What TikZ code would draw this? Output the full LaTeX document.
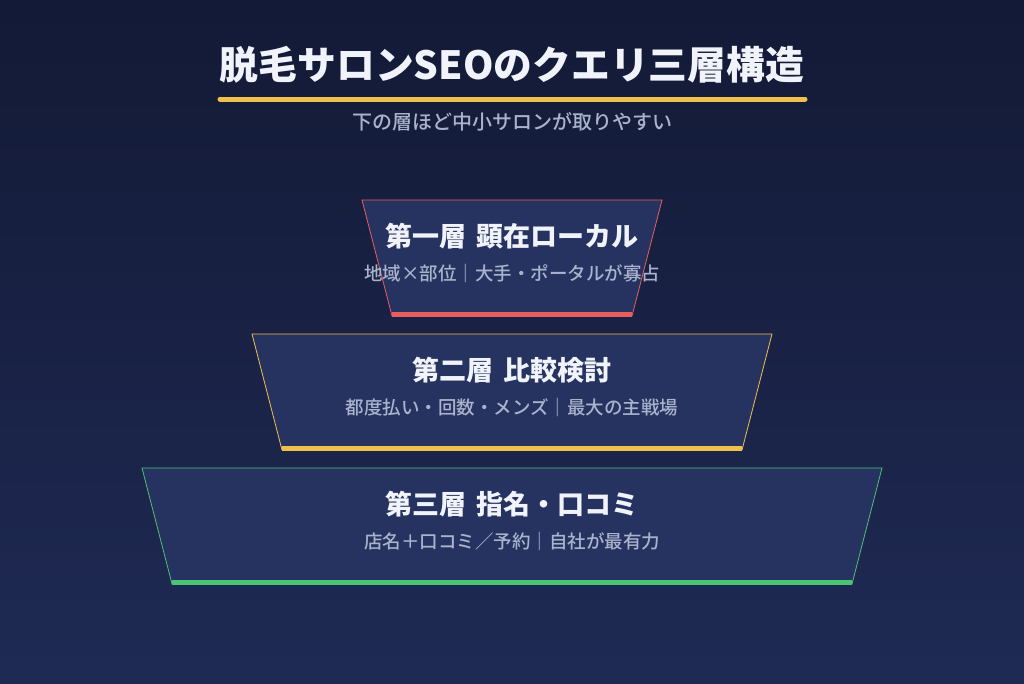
\documentclass[tikz,border=0pt]{standalone}
\usepackage{fontspec}
\setmainfont{Noto Sans CJK JP}
\newfontfamily\jpheavy{Noto Sans CJK JP Black}
\newfontfamily\jpmedium{Noto Sans CJK JP Medium}
\usetikzlibrary{positioning,calc}

\definecolor{bgtop}{HTML}{131A36}
\definecolor{bgbot}{HTML}{1F2A54}
\definecolor{panel}{HTML}{263360}
\definecolor{headtext}{HTML}{F1F3FA}
\definecolor{subtext}{HTML}{A9B3CC}
\definecolor{accred}{HTML}{E85D5D}
\definecolor{accyellow}{HTML}{F0BF4C}
\definecolor{accgreen}{HTML}{4CC274}

\tikzset{
  headline/.style={font=\jpheavy\fontsize{38.8}{42}\selectfont, text=headtext},
  tagline/.style={font=\jpmedium\fontsize{20}{24}\selectfont, text=subtext},
  layerhead/.style={font=\bfseries\fontsize{27}{31}\selectfont, text=headtext, inner sep=0pt},
  layersub/.style={font=\jpmedium\fontsize{18.5}{22}\selectfont, text=subtext, inner sep=0pt},
}

\begin{document}
\begin{tikzpicture}[x=1pt,y=-1pt]
      % Background
      \shade[top color=bgtop,bottom color=bgbot] (0,0) rectangle (1024,683);
      \useasboundingbox (0,0) rectangle (1024,683);

      % Title
      \node[headline] (title) at (512,65) {脱毛サロンSEOのクエリ三層構造};
      \draw[accyellow,line width=5pt,line cap=round] (220,99) -- (805,99);
      \node[tagline] (tagline) at (512,122) {下の層ほど中小サロンが取りやすい};

      % Layers
      \foreach \i/\c/\h/\s in {
          0/accred/{第一層\hspace{0.4em}顕在ローカル}/{地域×部位｜大手・ポータルが寡占},
          1/accyellow/{第二層\hspace{0.4em}比較検討}/{都度払い・回数・メンズ｜最大の主戦場},
          2/accgreen/{第三層\hspace{0.4em}指名・口コミ}/{店名＋口コミ／予約｜自社が最有力}} {
        \pgfmathsetmacro{\top}{200+134*\i}
        \pgfmathsetmacro{\half}{150+110*\i}
        \fill[panel] (512-\half,\top) -- (512+\half,\top) -- (512+\half-30,\top+116) -- (512-\half+30,\top+116) -- cycle;
        \draw[\c,line width=0.8pt] (512-\half,\top) -- (512+\half,\top) -- (512+\half-30,\top+116) -- (512-\half+30,\top+116) -- cycle;
        \draw[\c,line width=5pt] (512-\half+30,\top+114.5) -- (512+\half-30,\top+114.5);
        \node[layerhead] (head\i) at (512,\top+36) {\h};
        \node[layersub,below=15pt of head\i] (sub\i) {\s};
      }
    \end{tikzpicture}
\end{document}
